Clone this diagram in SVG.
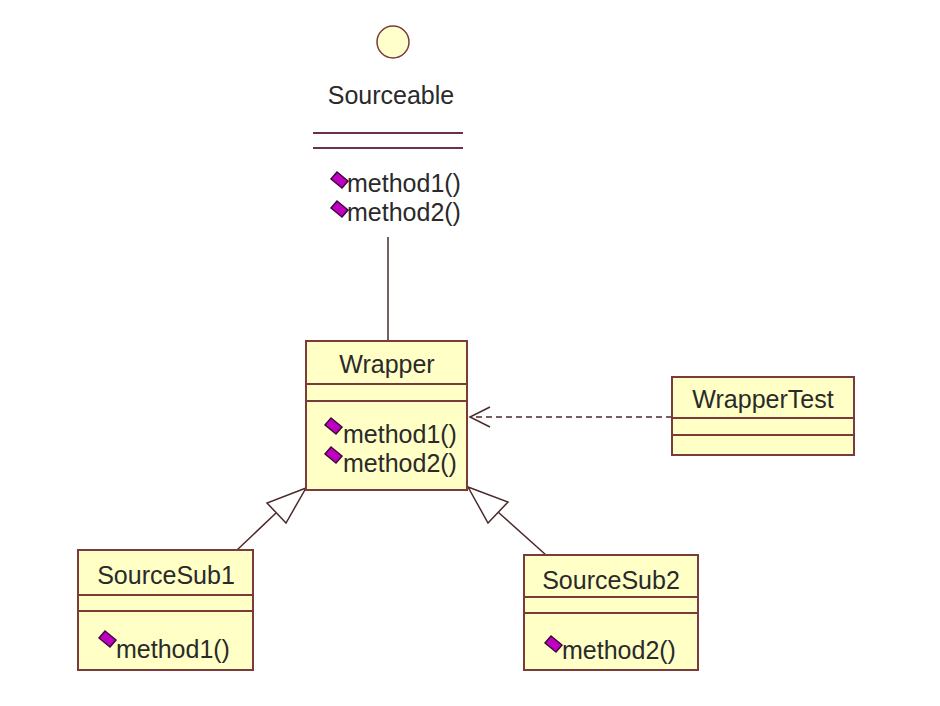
<svg xmlns="http://www.w3.org/2000/svg" width="940" height="706" viewBox="0 0 940 706">
<style>
.box{fill:#FFFFC6;stroke:#7b3b3b;stroke-width:2}
.div{stroke:#7b3b3b;stroke-width:2;fill:none}
.t{font-family:"Liberation Sans",Arial,sans-serif;font-size:25px;fill:#2a2a2a}
.c{text-anchor:middle}
.ln{stroke:#4a2a2a;stroke-width:1.5;fill:none}
.tri{stroke:#4a2a2a;stroke-width:1.5;fill:#fff}
</style>
<defs>
<path id="dm" d="M0,0 L6,-7 L17,2 L11,9 Z" fill="#C000C0" stroke="#3a0a3a" stroke-width="1.5"/>
</defs>
<rect width="940" height="706" fill="#fff"/>
<g id="connectors">
<line class="ln" x1="388" y1="237" x2="388" y2="341"/>
<line class="ln" x1="672" y1="417" x2="471" y2="417" stroke-dasharray="6,4"/>
<polyline class="ln" points="490,407 470,417 490,427"/>
<line class="ln" x1="237" y1="550" x2="276" y2="513"/>
<polygon class="tri" points="306,488 267,503 286,523"/>
<line class="ln" x1="546" y1="555" x2="498" y2="512"/>
<polygon class="tri" points="468,487 508,502 488,523"/>
</g>
<g id="Sourceable">
<circle cx="393" cy="42" r="16" fill="#FFFFCC" stroke="#7b3b3b" stroke-width="1.5"/>
<text class="t c" x="391" y="104">Sourceable</text>
<line x1="313" y1="133" x2="463" y2="133" stroke="#6b3050" stroke-width="2"/>
<line x1="313" y1="148" x2="463" y2="148" stroke="#6b3050" stroke-width="2"/>
<use href="#dm" x="331" y="179"/>
<text class="t" x="347" y="192">method1()</text>
<use href="#dm" x="331" y="208"/>
<text class="t" x="347" y="221">method2()</text>
</g>
<g id="Wrapper">
<rect class="box" x="306" y="341" width="161" height="149"/>
<line class="div" x1="306" y1="384" x2="467" y2="384"/>
<line class="div" x1="306" y1="401" x2="467" y2="401"/>
<text class="t c" x="387" y="373">Wrapper</text>
<use href="#dm" x="325" y="425"/>
<text class="t" x="343" y="443">method1()</text>
<use href="#dm" x="325" y="454"/>
<text class="t" x="343" y="472">method2()</text>
</g>
<g id="WrapperTest">
<rect class="box" x="672" y="377" width="182" height="78"/>
<line class="div" x1="672" y1="418" x2="854" y2="418"/>
<line class="div" x1="672" y1="435" x2="854" y2="435"/>
<text class="t c" x="763" y="408">WrapperTest</text>
</g>
<g id="SourceSub1">
<rect class="box" x="78" y="550" width="175" height="120"/>
<line class="div" x1="78" y1="595" x2="253" y2="595"/>
<line class="div" x1="78" y1="611" x2="253" y2="611"/>
<text class="t c" x="166" y="584">SourceSub1</text>
<use href="#dm" x="99" y="638"/>
<text class="t" x="116" y="658">method1()</text>
</g>
<g id="SourceSub2">
<rect class="box" x="524" y="555" width="174" height="115"/>
<line class="div" x1="524" y1="597" x2="698" y2="597"/>
<line class="div" x1="524" y1="613" x2="698" y2="613"/>
<text class="t c" x="611" y="589">SourceSub2</text>
<use href="#dm" x="545" y="643"/>
<text class="t" x="562" y="659">method2()</text>
</g>
</svg>
